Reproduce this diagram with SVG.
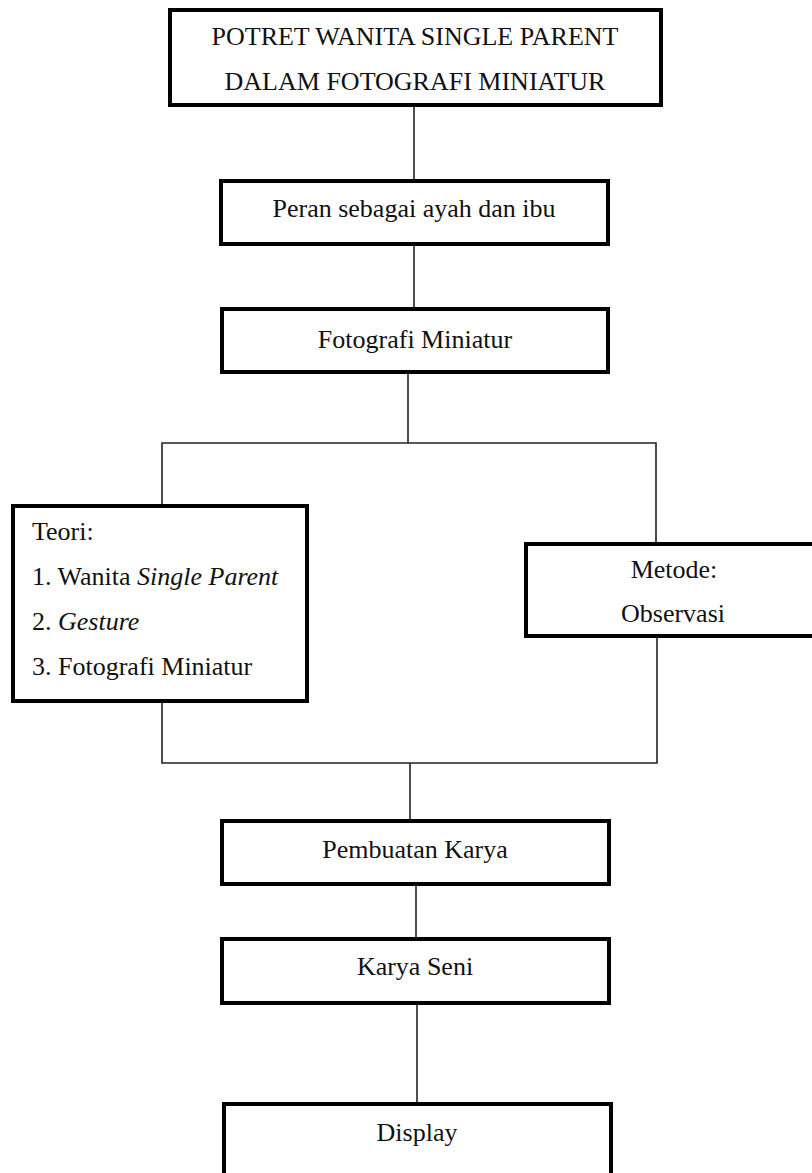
<svg xmlns="http://www.w3.org/2000/svg" width="812" height="1173" viewBox="0 0 812 1173">
<style>
.box{fill:#fff;stroke:#000;stroke-width:4}
.con{fill:none;stroke:#222;stroke-width:1.6}
text{font-family:"Liberation Serif","Times New Roman",serif;font-size:26px;fill:#111}
.c{text-anchor:middle}
.i{font-style:italic}
</style>
<rect width="812" height="1173" fill="#fff"/>
<g id="connectors">
<line class="con" x1="414" y1="106" x2="414" y2="180"/>
<line class="con" x1="414" y1="245" x2="414" y2="308"/>
<line class="con" x1="408" y1="373" x2="408" y2="443"/>
<polyline class="con" points="162,505 162,443 656,443 656,543"/>
<polyline class="con" points="162,702 162,763 657,763 657,637"/>
<line class="con" x1="410" y1="763" x2="410" y2="820"/>
<line class="con" x1="416" y1="885" x2="416" y2="938"/>
<line class="con" x1="417" y1="1004" x2="417" y2="1103"/>
</g>
<g id="n1">
<rect class="box" x="170" y="10" width="491" height="95"/>
<text class="c" x="415" y="45">POTRET WANITA SINGLE PARENT</text>
<text class="c" x="415" y="90">DALAM FOTOGRAFI MINIATUR</text>
</g>
<g id="n2">
<rect class="box" x="221" y="181" width="387" height="63"/>
<text class="c" x="414" y="217">Peran sebagai ayah dan ibu</text>
</g>
<g id="n3">
<rect class="box" x="222" y="309" width="386" height="63"/>
<text class="c" x="415" y="348">Fotografi Miniatur</text>
</g>
<g id="n4">
<rect class="box" x="13" y="506" width="294" height="195"/>
<text x="32" y="540">Teori:</text>
<text x="32" y="585">1. Wanita <tspan class="i">Single Parent</tspan></text>
<text x="32" y="630">2. <tspan class="i">Gesture</tspan></text>
<text x="32" y="675">3. Fotografi Miniatur</text>
</g>
<g id="n5">
<rect class="box" x="526" y="544" width="298" height="92"/>
<text class="c" x="674" y="578">Metode:</text>
<text class="c" x="673" y="622">Observasi</text>
</g>
<g id="n6">
<rect class="box" x="222" y="821" width="387" height="63"/>
<text class="c" x="415" y="858">Pembuatan Karya</text>
</g>
<g id="n7">
<rect class="box" x="222" y="939" width="387" height="64"/>
<text class="c" x="415" y="975">Karya Seni</text>
</g>
<g id="n8">
<rect class="box" x="224" y="1104" width="387" height="90"/>
<text class="c" x="417" y="1141">Display</text>
</g>
</svg>
